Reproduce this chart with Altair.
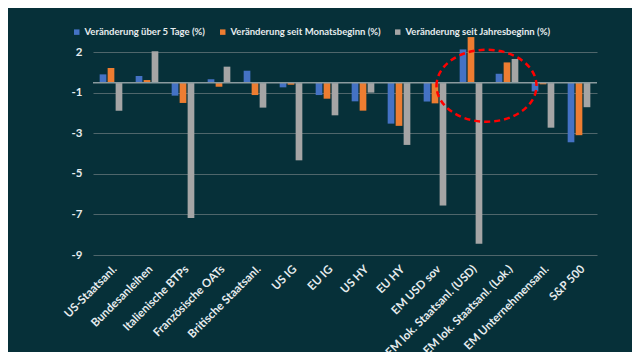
import altair as alt
import pandas as pd

categories = [
    "US-Staatsanl.", "Bundesanleihen", "Italienische BTPs", "Französische OATs",
    "Britische Staatsanl.", "US IG", "EU IG", "US HY", "EU HY", "EM USD sov",
    "EM lok. Staatsanl. (USD)", "EM lok. Staatsanl. (Lok.)", "EM Unternehmensanl.", "S&P 500",
]
series_names = [
    "Veränderung über 5 Tage (%)",
    "Veränderung seit Monatsbeginn (%)",
    "Veränderung seit Jahresbeginn (%)",
]
five_day = [0.41, 0.33, -0.64, 0.17, 0.59, -0.23, -0.61, -0.92, -2.02, -0.93, 1.64, 0.44, -0.43, -2.94]
month_to_date = [0.72, 0.13, -1.00, -0.20, -0.61, -0.10, -0.79, -1.38, -2.13, -1.02, 2.25, 1.00, -0.08, -2.59]
year_to_date = [-1.39, 1.55, -6.68, 0.79, -1.23, -3.83, -1.61, -0.49, -3.07, -6.06, -7.94, 1.17, -2.22, -1.21]
colors = ["#4472C4", "#ED7D31", "#A5A5A5"]
tick_values = [1.5, -0.5, -2.5, -4.5, -6.5, -8.5]
tick_labels = ["2", "-1", "-3", "-5", "-7", "-9"]
highlight_category = ["EM lok. Staatsanl. (USD)"]
highlight_value = [-0.15]

rows = []
for s, vals in zip(series_names, [five_day, month_to_date, year_to_date]):
    for c, v in zip(categories, vals):
        rows.append({"Kategorie": c, "Serie": s, "Wert": v})
df = pd.DataFrame(rows)

label_expr = " : ".join(f"datum.value == {v} ? '{l}'" for v, l in zip(tick_values, tick_labels)) + " : ''"

text_color = "#e6ecee"
font = "Lato"

x_enc = alt.X(
    "Kategorie:N", sort=categories,
    scale=alt.Scale(paddingInner=0.37, paddingOuter=0.185),
    axis=alt.Axis(title=None, labelAngle=-45, labelColor=text_color, labelFont=font,
                  labelFontWeight="bold", labelFontSize=11.5, domain=False, ticks=False,
                  labelPadding=8, grid=False, labelLimit=300),
)
y_scale = alt.Scale(domain=[-8.5, 2.5], nice=False)

bars = alt.Chart(df).mark_bar().encode(
    x=x_enc,
    xOffset=alt.XOffset("Serie:N", sort=series_names, scale=alt.Scale(paddingInner=0.16)),
    y=alt.Y("Wert:Q", scale=y_scale,
            axis=alt.Axis(values=tick_values, labelExpr=label_expr, title=None, domain=False,
                          ticks=False, gridColor="#4f666b", gridWidth=1, labelPadding=11,
                          labelColor=text_color, labelFont=font, labelFontWeight="bold",
                          labelFontSize=11.5)),
    color=alt.Color("Serie:N", sort=series_names,
                    scale=alt.Scale(domain=series_names, range=colors),
                    legend=alt.Legend(orient="none", legendX=-21, legendY=-5, padding=0,
                                      direction="horizontal", title=None, symbolType="square",
                                      symbolSize=30, symbolStrokeWidth=0, labelFont=font,
                                      labelFontWeight="bold", labelFontSize=9.5,
                                      labelColor=text_color, columnPadding=12, labelOffset=3)),
)

zero_df = pd.DataFrame({"Nulllinie": [0]})
zero_line = alt.Chart(zero_df).mark_rule(color="#8a9a9e", strokeWidth=1.5).encode(
    y=alt.Y("Nulllinie:Q", scale=y_scale)
)

hl_df = pd.DataFrame({"Kategorie": highlight_category, "Wert": highlight_value})
# ellipse outline, shifted right of the category centre
ellipse_path = "M-0.69,0A1,0.72,0,1,1,1.31,0A1,0.72,0,1,1,-0.69,0Z"
ellipse = alt.Chart(hl_df).mark_point(
    shape=ellipse_path, size=10000, filled=False, stroke="#ff0000", strokeWidth=2.5,
    strokeDash=[6, 4], opacity=1,
).encode(
    x=alt.X("Kategorie:N", sort=categories),
    y=alt.Y("Wert:Q", scale=y_scale),
)

chart = alt.layer(bars, zero_line, ellipse).properties(
    width=504, height=223,
    autosize=alt.AutoSizeParams(type="none"),
    padding={"left": 85, "top": 24, "right": 35, "bottom": 97},
    background="#063039",
).configure_view(stroke=None)

chart.save("out.html", embed_options={"renderer": "svg", "actions": False})
